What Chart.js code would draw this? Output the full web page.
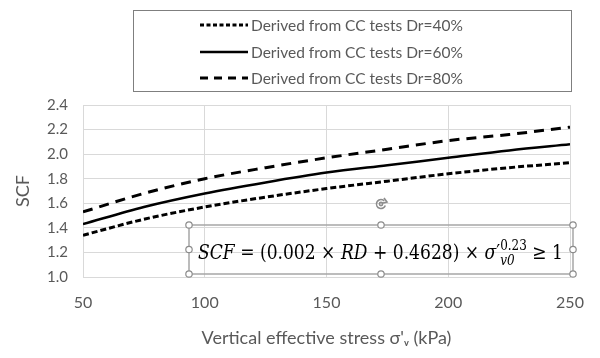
<!DOCTYPE html>
<html>
<head>
<meta charset="utf-8">
<script src="https://cdn.jsdelivr.net/npm/chart.js@4"></script>
<style>
  html, body { margin: 0; padding: 0; background: #fff; }
  #wrap { width: 600px; height: 358px; }
</style>
</head>
<body>
<div id="wrap"><canvas id="scfChart" width="600" height="358"></canvas></div>
<script>
// stress values (kPa) and SCF
const stress = [50, 75, 100, 125, 150, 175, 200, 225, 250];
const scfDr40 = [1.34, 1.47, 1.57, 1.65, 1.72, 1.78, 1.84, 1.89, 1.93];
const scfDr60 = [1.43, 1.57, 1.68, 1.77, 1.85, 1.91, 1.97, 2.03, 2.08];
const scfDr80 = [1.53, 1.68, 1.80, 1.89, 1.97, 2.04, 2.11, 2.16, 2.22];
const seriesLabels = [
  "Derived from CC tests Dr=40%",
  "Derived from CC tests Dr=60%",
  "Derived from CC tests Dr=80%"
];
const xTicks = [50, 100, 150, 200, 250];
const yTicks = [1.0, 1.2, 1.4, 1.6, 1.8, 2.0, 2.2, 2.4];

const textGrey = "#595959";
const gridGrey = "#d9d9d9";
const uiFont = "Lato, 'Open Sans', sans-serif";

const toPoints = vals => stress.map((x, i) => ({ x: x, y: vals[i] }));

/* ---------------------------------------------------------
   Boxed legend, equation box (with selection handles)
--------------------------------------------------------- */
const overlayPlugin = {
  id: "overlay",
  afterDraw(chart) {
    const ctx = chart.ctx;
    ctx.save();

    // legend frame
    ctx.strokeStyle = "#7f7f7f";
    ctx.lineWidth = 1;
    ctx.strokeRect(133.5, 10.5, 438, 81);

    const rows = [25, 52, 78];
    const sampleDash = [[4, 2.5], [], [8, 6]];
    chart.data.datasets.forEach((ds, i) => {
      const y = rows[i];
      ctx.strokeStyle = "#000";
      ctx.lineWidth = ds.borderWidth;
      ctx.setLineDash(sampleDash[i]);
      ctx.beginPath();
      ctx.moveTo(200, y);
      ctx.lineTo(248, y);
      ctx.stroke();
      ctx.setLineDash([]);
      ctx.fillStyle = textGrey;
      ctx.font = "15.5px " + uiFont;
      ctx.textBaseline = "middle";
      ctx.textAlign = "left";
      ctx.fillText(ds.label, 251, y + 1);
    });

    // equation box
    const bx = 189, by = 225, bw = 384, bh = 49;
    ctx.strokeStyle = "#a6a6a6";
    ctx.lineWidth = 1.5;
    ctx.strokeRect(bx, by, bw, bh);

    // equation text
    const serif = "'DejaVu Serif', 'Liberation Serif', serif";
    const base = 20;
    const parts = [
      { t: "SCF", it: true },
      { t: " = (0.002 × ", it: false },
      { t: "RD", it: true },
      { t: " + 0.4628) × ", it: false },
      { t: "σ", it: true },
      { t: "′", it: false },
      { t: "0.23", it: false, sup: true },
      { t: " ≥ 1", it: false }
    ];
    const fontOf = p => (p.it ? "italic " : "") + (p.sup ? Math.round(base * 0.7) : base) + "px " + serif;
    let total = 0;
    parts.forEach(p => { ctx.font = fontOf(p); p.w = ctx.measureText(p.t).width; total += p.w; });
    const scale = 365 / total;
    ctx.save();
    ctx.translate(198, 259);
    ctx.scale(scale, 1);
    ctx.fillStyle = "#000";
    ctx.textBaseline = "alphabetic";
    let cx = 0;
    parts.forEach(p => {
      ctx.font = fontOf(p);
      if (p.sup) {
        ctx.fillText(p.t, cx, -9);
        // subscript v0 under the exponent
        ctx.font = "italic " + Math.round(base * 0.7) + "px " + serif;
        ctx.fillText("v0", cx, 6);
      } else {
        ctx.fillText(p.t, cx, 0);
      }
      cx += p.w;
    });
    ctx.restore();

    // selection handles
    const handles = [
      [bx, by], [bx + bw / 2, by], [bx + bw, by],
      [bx, by + bh / 2], [bx + bw, by + bh / 2],
      [bx, by + bh], [bx + bw / 2, by + bh], [bx + bw, by + bh]
    ];
    handles.forEach(([hx, hy]) => {
      ctx.beginPath();
      ctx.arc(hx, hy, 3.2, 0, Math.PI * 2);
      ctx.fillStyle = "#fff";
      ctx.fill();
      ctx.strokeStyle = "#8c8c8c";
      ctx.lineWidth = 1.2;
      ctx.stroke();
    });

    // rotate handle
    ctx.strokeStyle = "#8c8c8c";
    ctx.lineWidth = 1.6;
    ctx.beginPath();
    ctx.arc(381, 204, 4.5, Math.PI * 0.1, Math.PI * 1.75);
    ctx.stroke();
    ctx.beginPath();
    ctx.arc(381, 204, 1.6, 0, Math.PI * 2);
    ctx.stroke();
    ctx.beginPath();
    ctx.moveTo(384, 198);
    ctx.lineTo(387, 202);
    ctx.lineTo(383, 203);
    ctx.stroke();

    ctx.restore();
  }
};

new Chart(document.getElementById("scfChart"), {
  type: "line",
  data: {
    datasets: [
      { label: seriesLabels[0], data: toPoints(scfDr40), borderColor: "#000", borderWidth: 3, borderDash: [6, 3] },
      { label: seriesLabels[1], data: toPoints(scfDr60), borderColor: "#000", borderWidth: 2.5, borderDash: [] },
      { label: seriesLabels[2], data: toPoints(scfDr80), borderColor: "#000", borderWidth: 3, borderDash: [10, 7] }
    ]
  },
  options: {
    responsive: false,
    animation: false,
    layout: { padding: { top: 105, right: 30, left: 0, bottom: 0 } },
    elements: {
      point: { radius: 0 },
      line: { tension: 0.4, cubicInterpolationMode: "monotone", fill: false }
    },
    plugins: { legend: { display: false }, tooltip: { enabled: false } },
    scales: {
      x: {
        type: "linear",
        min: 50,
        max: 250,
        afterBuildTicks: s => { s.ticks = xTicks.map(v => ({ value: v })); },
        afterFit: s => { s.height = 81; },
        grid: { color: gridGrey, drawTicks: false },
        border: { color: gridGrey },
        ticks: { color: textGrey, font: { family: uiFont, size: 16 }, padding: 16 },
        title: {
          display: true,
          text: "Vertical effective stress σ'ᵥ (kPa)",
          color: textGrey,
          font: { family: uiFont, size: 18 },
          padding: { top: 4, bottom: 9 }
        }
      },
      y: {
        min: 1.0,
        max: 2.4,
        afterBuildTicks: s => { s.ticks = yTicks.map(v => ({ value: v })); },
        afterFit: s => { s.width = 83; },
        grid: { color: gridGrey, drawTicks: false },
        border: { color: gridGrey },
        ticks: {
          color: textGrey,
          font: { family: uiFont, size: 15 },
          padding: 15,
          callback: v => v.toFixed(1)
        },
        title: {
          display: true,
          text: "SCF",
          color: textGrey,
          font: { family: uiFont, size: 18 },
          padding: { top: 12, bottom: 0 }
        }
      }
    }
  },
  plugins: [overlayPlugin]
});
</script>
</body>
</html>
